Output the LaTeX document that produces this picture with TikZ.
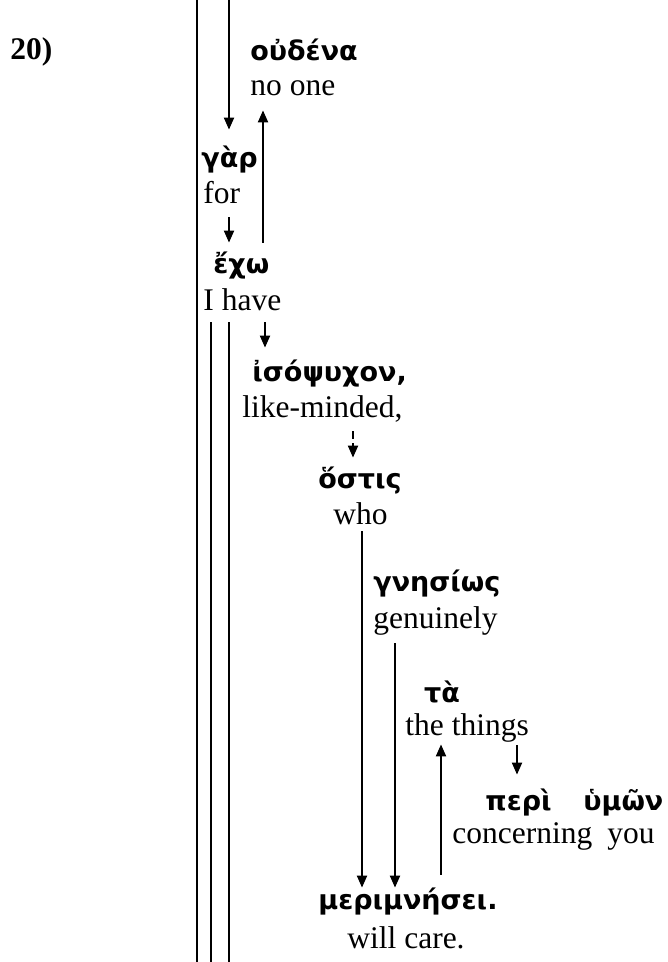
\documentclass[tikz,border=0pt]{standalone}
\usepackage{fontspec}
\setmainfont{Liberation Serif}
\newfontfamily\grk{DejaVu Sans}
\usetikzlibrary{arrows.meta}

\tikzset{
	greek/.style = {anchor = base west, inner sep = 0, text height = 9pt, text depth = 3pt, font = \grk\bfseries\fontsize{13.5}{16}\selectfont},
	gloss/.style = {anchor = base west, inner sep = 0, text height = 11pt, text depth = 3.5pt, font = \fontsize{15.75}{18}\selectfont},
	rule/.style = {line width = 1pt},
	arr/.style = {line width = 1pt, ->},
}

\begin{document}
\begin{tikzpicture}[x = 0.5pt, y = -0.5pt, > = {Triangle[length = 6pt, width = 5pt]}]

	% Frame
	
	\useasboundingbox (0, 0) rectangle (668, 962);
	
	% Number
	
	\node [gloss, font = \bfseries\fontsize{15.75}{18}\selectfont] (num) at (10, 60) {20)};
	
	% Words
	
	\node [greek] (oudena) at (250, 61) {οὐδένα};
	\node [gloss] (noone) at (250, 96) {no one};
	\node [greek] (gar) at (201, 168) {γὰρ};
	\node [gloss] (for) at (203, 204) {for};
	\node [greek] (echo) at (213, 274) {ἔχω};
	\node [gloss] (have) at (203, 310) {I have};
	\node [greek] (iso) at (252, 381) {ἰσόψυχον,};
	\node [gloss] (minded) at (242, 417) {like-minded,};
	\node [greek] (ostis) at (318, 488) {ὅστις};
	\node [gloss] (who) at (333, 524) {who};
	\node [greek] (gnesios) at (373, 591) {γνησίως};
	\node [gloss] (genuinely) at (373, 628) {genuinely};
	\node [greek, anchor = base] (ta) at (442, 702) {τὰ};
	\node [gloss] (things) at (405, 735) {the things};
	\node [greek] (peri) at (485, 810) {περὶ};
	\node [greek] (hymon) at (583, 810) {ὑμῶν};
	\node [gloss] (concerning) at (452, 843) {concerning};
	\node [gloss] (you) at (607, 843) {you};
	\node [greek] (merim) at (318, 909) {μεριμνήσει.};
	\node [gloss] (care) at (347, 948) {will care.};
	
	% Columns
	
	\coordinate (c0) at (197, 962);
	\coordinate (c1) at (211, 962);
	\coordinate (c2) at (229, 962);
	\coordinate (k1) at (263, 0);
	\coordinate (k2) at (265, 0);
	\coordinate (k3) at (353, 0);
	\coordinate (k4) at (362, 0);
	\coordinate (k5) at (395, 0);
	\coordinate (k6) at (441, 0);
	\coordinate (k7) at (517, 0);
	
	% Rules
	
	\draw [rule] (c0 |- 0, 0) -- (c0);
	\draw [rule, shorten < = 2.5pt] (have.south -| c1) -- (c1);
	\draw [rule, shorten < = 2.5pt] (have.south -| c2) -- (c2);
	
	% Arrows
	
	\draw [arr, shorten > = 10pt] (c2 |- 0, 0) -- (gar.north -| c2);
	\draw [arr, shorten < = 6.5pt, shorten > = 3.5pt] (echo.north -| k1) -- (noone.south -| k1);
	\draw [arr, shorten < = 3pt, shorten > = 6.5pt] (for.south -| c2) -- (echo.north -| c2);
	\draw [arr, shorten < = 2.5pt, shorten > = 7.5pt] (have.south -| k2) -- (iso.north -| k2);
	\draw [arr, dash pattern = on 4pt off 2pt, shorten < = 3.5pt, shorten > = 6pt] (minded.south -| k3) -- (ostis.north -| k3);
	\draw [arr, shorten > = 1.5pt] (who.south -| k4) -- (merim.north -| k4);
	\draw [arr, shorten < = 4pt, shorten > = 1.5pt] (genuinely.south -| k5) -- (merim.north -| k5);
	\draw [arr, shorten < = 8pt, shorten > = 1pt] (merim.north -| k6) -- (things.south -| k6);
	\draw [arr, shorten < = 1.5pt, shorten > = 8.5pt] (things.south -| k7) -- (peri.north -| k7);

\end{tikzpicture}
\end{document}
